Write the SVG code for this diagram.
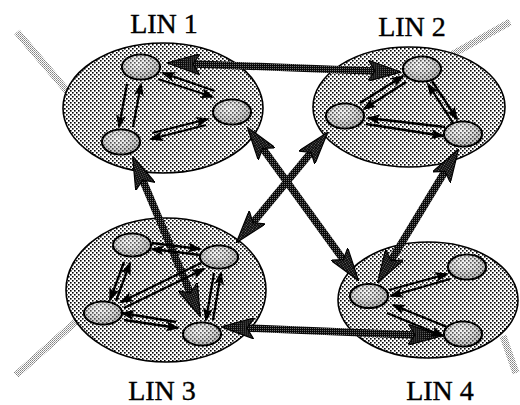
<svg xmlns="http://www.w3.org/2000/svg" width="520" height="405" viewBox="0 0 520 405">
  <defs>
    <!-- staggered halftone dots for the LIN areas -->
    <pattern id="halftone" patternUnits="userSpaceOnUse" width="4" height="4">
      <rect width="4" height="4" fill="#ffffff"/>
      <rect x="0" y="0" width="1.6" height="1.6" fill="#000"/>
      <rect x="2" y="2" width="1.6" height="1.6" fill="#000"/>
    </pattern>
    <!-- dark checker for the inter-LIN links -->
    <pattern id="dark" patternUnits="userSpaceOnUse" width="2" height="2">
      <rect width="2" height="2" fill="#0a0a0a"/>
      <rect x="0" y="0" width="1" height="1" fill="#707070"/>
    </pattern>
    <!-- light checker for external links -->
    <pattern id="light" patternUnits="userSpaceOnUse" width="2" height="2">
      <rect width="2" height="2" fill="#ffffff"/>
      <rect x="0" y="0" width="1" height="1" fill="#808080"/>
      <rect x="1" y="1" width="1" height="1" fill="#a0a0a0"/>
    </pattern>
    <radialGradient id="nodeShade" cx="0.42" cy="0.36" r="0.7">
      <stop offset="0" stop-color="#f0f0f0"/>
      <stop offset="0.5" stop-color="#b4b4b4"/>
      <stop offset="1" stop-color="#5c5c5c"/>
    </radialGradient>
    <marker id="big" markerUnits="userSpaceOnUse" markerWidth="33" markerHeight="21" refX="17" refY="10.5" orient="auto-start-reverse" viewBox="0 0 33 21">
      <path d="M0,0 L33,10.5 L0,21 L7,10.5 z" fill="url(#dark)" stroke="#000" stroke-width="1.2"/>
    </marker>
    <marker id="sm" markerUnits="userSpaceOnUse" markerWidth="14" markerHeight="10" refX="12" refY="5" orient="auto" viewBox="0 0 14 10">
      <path d="M0,0 L14,5 L0,10 L3,5 z" fill="#000"/>
    </marker>
  </defs>
  <style>
    .lin { fill: url(#halftone); stroke: #000; stroke-width: 1.6; }
    .node ellipse.body { fill: url(#nodeShade); stroke: #000; stroke-width: 2.2; }
    .node ellipse.dots { fill: url(#halftone); opacity: 0.6; }
    .ext { stroke: url(#light); stroke-width: 7; fill: none; }
    .trunk { stroke: url(#dark); stroke-width: 7.5; fill: none; marker-start: url(#big); marker-end: url(#big); }
    .link { stroke: #000; stroke-width: 2.3; fill: none; marker-end: url(#sm); }
    .label { font-family: "Liberation Serif", "Times New Roman", serif; font-size: 28px; fill: #000; stroke: #000; stroke-width: 0.4; text-anchor: middle; }
  </style>

  <!-- external links -->
  <g id="external">
    <line class="ext" x1="17" y1="32" x2="68" y2="92"/>
    <line class="ext" x1="446" y1="58" x2="510" y2="22"/>
    <line class="ext" x1="16" y1="375" x2="80" y2="318"/>
    <line class="ext" x1="503" y1="336" x2="516" y2="373"/>
  </g>

  <!-- LIN areas -->
  <g id="lin1"><ellipse class="lin" cx="163" cy="108" rx="100" ry="65"/><text class="label" x="164" y="33">LIN 1</text></g>
  <g id="lin2"><ellipse class="lin" cx="409" cy="107" rx="96" ry="60"/><text class="label" x="412" y="36">LIN 2</text></g>
  <g id="lin3"><ellipse class="lin" cx="166" cy="290" rx="100" ry="72"/><text class="label" x="162" y="400">LIN 3</text></g>
  <g id="lin4"><ellipse class="lin" cx="428" cy="300" rx="90" ry="58"/><text class="label" x="440" y="400">LIN 4</text></g>

  <!-- connectors -->
  <g id="connectors">
    <!-- inter-LIN trunks -->
    <line class="trunk" x1="183" y1="63.6" x2="385" y2="71.4"/>
    <line class="trunk" x1="256.8" y1="140.2" x2="349.2" y2="267.8"/>
    <line class="trunk" x1="138.8" y1="170.8" x2="194.2" y2="302.2"/>
    <line class="trunk" x1="317.5" y1="144.6" x2="246.5" y2="230.4"/>
    <line class="trunk" x1="450.2" y1="162.8" x2="385.8" y2="269.2"/>
    <line class="trunk" x1="237" y1="327.6" x2="425" y2="335.4"/>

    <!-- LIN 1 internal -->
    <line class="link" x1="158" y1="79" x2="213" y2="97"/>
    <line class="link" x1="215" y1="91" x2="163" y2="73"/>
    <line class="link" x1="127" y1="84" x2="119" y2="127"/>
    <line class="link" x1="133" y1="127" x2="141" y2="84"/>
    <line class="link" x1="152" y1="133" x2="208" y2="119"/>
    <line class="link" x1="206" y1="125" x2="151" y2="139"/>

    <!-- LIN 2 internal -->
    <line class="link" x1="360" y1="103" x2="403" y2="76"/>
    <line class="link" x1="406" y1="82" x2="364" y2="109"/>
    <line class="link" x1="432" y1="81" x2="457" y2="119"/>
    <line class="link" x1="453" y1="123" x2="428" y2="84"/>
    <line class="link" x1="445" y1="127" x2="368" y2="118"/>
    <line class="link" x1="366" y1="124" x2="443" y2="136"/>

    <!-- LIN 3 internal -->
    <line class="link" x1="152" y1="243" x2="200" y2="249"/>
    <line class="link" x1="200" y1="255" x2="152" y2="249"/>
    <line class="link" x1="124" y1="262" x2="110" y2="300"/>
    <line class="link" x1="116" y1="301" x2="130" y2="263"/>
    <line class="link" x1="201" y1="263" x2="121" y2="302"/>
    <line class="link" x1="124" y1="308" x2="204" y2="269"/>
    <line class="link" x1="214" y1="273" x2="206" y2="320"/>
    <line class="link" x1="213" y1="320" x2="221" y2="273"/>
    <line class="link" x1="176" y1="322" x2="122" y2="313"/>
    <line class="link" x1="124" y1="320" x2="178" y2="328"/>

    <!-- LIN 4 internal -->
    <line class="link" x1="389" y1="290" x2="447" y2="274"/>
    <line class="link" x1="450" y1="279" x2="391" y2="296"/>
    <line class="link" x1="447" y1="327" x2="393" y2="305"/>
    <line class="link" x1="387" y1="313" x2="443" y2="336"/>
  </g>

  <!-- stations -->
  <g id="n1a" class="node"><ellipse class="body" cx="141" cy="67" rx="19" ry="12.5"/><ellipse class="dots" cx="141" cy="67" rx="18" ry="11.5"/></g>
  <g id="n1b" class="node"><ellipse class="body" cx="232" cy="112" rx="19" ry="12.5"/><ellipse class="dots" cx="232" cy="112" rx="18" ry="11.5"/></g>
  <g id="n1c" class="node"><ellipse class="body" cx="121" cy="142" rx="19" ry="12.5"/><ellipse class="dots" cx="121" cy="142" rx="18" ry="11.5"/></g>

  <g id="n2a" class="node"><ellipse class="body" cx="422" cy="69" rx="19" ry="12.5"/><ellipse class="dots" cx="422" cy="69" rx="18" ry="11.5"/></g>
  <g id="n2b" class="node"><ellipse class="body" cx="345" cy="116" rx="19" ry="12.5"/><ellipse class="dots" cx="345" cy="116" rx="18" ry="11.5"/></g>
  <g id="n2c" class="node"><ellipse class="body" cx="463" cy="134" rx="19" ry="12.5"/><ellipse class="dots" cx="463" cy="134" rx="18" ry="11.5"/></g>

  <g id="n3a" class="node"><ellipse class="body" cx="132" cy="245" rx="19" ry="11.5"/><ellipse class="dots" cx="132" cy="245" rx="18" ry="10.5"/></g>
  <g id="n3b" class="node"><ellipse class="body" cx="219" cy="257" rx="19" ry="11.5"/><ellipse class="dots" cx="219" cy="257" rx="18" ry="10.5"/></g>
  <g id="n3c" class="node"><ellipse class="body" cx="103" cy="313" rx="19" ry="11.5"/><ellipse class="dots" cx="103" cy="313" rx="18" ry="10.5"/></g>
  <g id="n3d" class="node"><ellipse class="body" cx="202" cy="334" rx="19" ry="11.5"/><ellipse class="dots" cx="202" cy="334" rx="18" ry="10.5"/></g>

  <g id="n4a" class="node"><ellipse class="body" cx="369" cy="296" rx="19" ry="12"/><ellipse class="dots" cx="369" cy="296" rx="18" ry="11"/></g>
  <g id="n4b" class="node"><ellipse class="body" cx="467" cy="267" rx="19" ry="12.5"/><ellipse class="dots" cx="467" cy="267" rx="18" ry="11.5"/></g>
  <g id="n4c" class="node"><ellipse class="body" cx="463" cy="334" rx="19" ry="12.5"/><ellipse class="dots" cx="463" cy="334" rx="18" ry="11.5"/></g>
</svg>
